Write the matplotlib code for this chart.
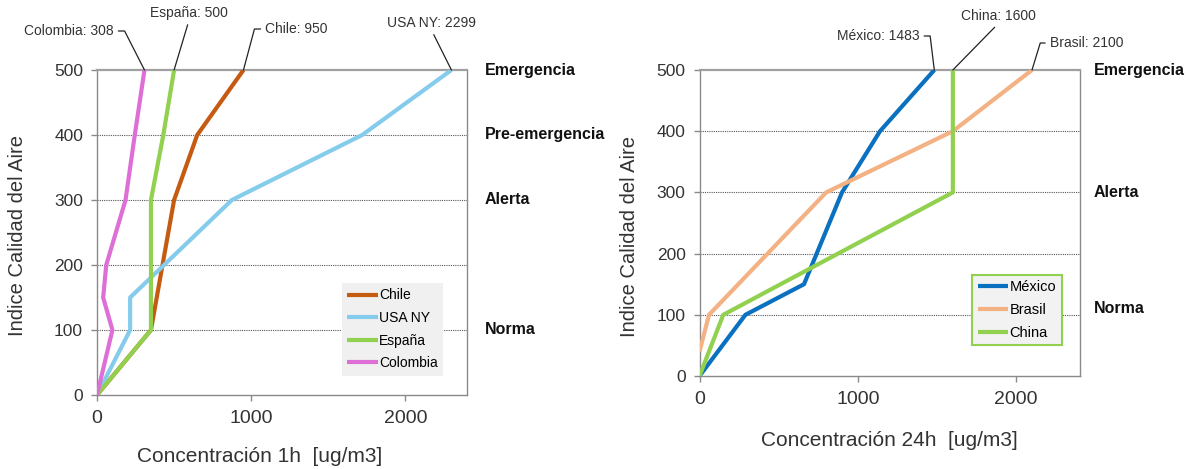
import matplotlib
matplotlib.use("Agg")
import matplotlib.pyplot as plt
import matplotlib.transforms as mtransforms

plt.rcParams['font.family'] = ['Liberation Sans', 'DejaVu Sans']

# ---------------- data ----------------
aqi_levels = [0, 100, 200, 300, 400, 500]

chile_x = [0, 350, 425, 500, 650, 950]
chile_y = [0, 100, 200, 300, 400, 500]
usa_x = [0, 215, 215, 875, 1720, 2299]
usa_y = [0, 100, 150, 300, 400, 500]
espana_x = [0, 350, 350, 350, 430, 500]
espana_y = [0, 100, 200, 300, 400, 500]
colombia_x = [0, 100, 40, 60, 185, 245, 308]
colombia_y = [0, 100, 150, 200, 300, 400, 500]

mexico_x = [0, 290, 660, 900, 1140, 1483]
mexico_y = [0, 100, 150, 300, 400, 500]
brasil_x = [0, 60, 800, 1600, 2100]
brasil_y = [40, 100, 300, 400, 500]
china_x = [0, 150, 1600, 1600, 1600]
china_y = [0, 100, 300, 400, 500]

left_levels = ["Emergencia", "Pre-emergencia", "Alerta", "Norma"]
left_level_y = [500, 400, 300, 100]
right_levels = ["Emergencia", "Alerta", "Norma"]
right_level_y = [500, 300, 110]

x_ticks = [0, 1000, 2000]
y_ticks = [0, 100, 200, 300, 400, 500]

# ---------------- style ----------------
C_CHILE = '#c55a11'
C_USA = '#85ccec'
C_ESP = '#92d050'
C_COL = '#dd6fd6'
C_MEX = '#0a70c0'
C_BRA = '#f4b183'
C_CHI = '#92d050'
TXT = '#333333'
SPINE = '#8a8a8a'

fig = plt.figure(figsize=(11.94, 4.69), dpi=100)
axL = fig.add_axes([97/1194, 74/469, 370/1194, 325/469])
axR = fig.add_axes([699.5/1194, 93/469, 380/1194, 306/469])


def style_axes(ax):
    ax.set_xlim(0, 2400)
    ax.set_ylim(0, 500)
    ax.set_xticks(x_ticks)
    ax.set_yticks(y_ticks)
    for s in ax.spines.values():
        s.set_color(SPINE)
        s.set_linewidth(1.0)
    ax.spines['top'].set_linewidth(1.6)
    ax.spines['top'].set_color('#a0a0a0')
    ax.tick_params(axis='x', length=4, width=1, color=SPINE, labelsize=14,
                   labelcolor=TXT, pad=7)
    ax.tick_params(axis='y', length=4, width=1, color=SPINE, labelsize=12.5,
                   labelcolor=TXT, pad=6)
    for yv in aqi_levels[1:-1]:
        ax.axhline(yv, color='#555555', lw=0.8, ls=(0, (1, 1)), zorder=1)


def series(ax, x, y, c, label):
    ax.plot(x, y, color=c, lw=3, label=label, solid_joinstyle='round',
            solid_capstyle='butt', zorder=3)


def leader(ax, text, xv, yv, dx, dy, ha, relpos, conn):
    ax.annotate(text, xy=(xv, yv), xycoords='data',
                xytext=(dx, dy), textcoords='offset pixels',
                ha=ha, va='center', fontsize=10, color=TXT,
                annotation_clip=False,
                arrowprops=dict(arrowstyle='-', color='#222222', lw=0.9,
                                relpos=relpos, connectionstyle=conn,
                                shrinkA=1.5, shrinkB=0))


# ---------------- left chart ----------------
style_axes(axL)
series(axL, chile_x, chile_y, C_CHILE, 'Chile')
series(axL, usa_x, usa_y, C_USA, 'USA NY')
series(axL, espana_x, espana_y, C_ESP, 'España')
series(axL, colombia_x, colombia_y, C_COL, 'Colombia')

axL.set_xlabel('Concentración 1h  [ug/m3]', fontsize=15, color=TXT)
axL.xaxis.set_label_coords(0.44, -0.188)
axL.xaxis.label.set_va('center')
axL.set_ylabel('Indice Calidad del Aire', fontsize=14.5, color=TXT)
axL.yaxis.set_label_coords(-0.214, 0.49)
axL.yaxis.label.set_va('center')

leader(axL, f'Colombia: {colombia_x[-1]}', colombia_x[-1], colombia_y[-1],
       -31, 39, 'right', (1, 0.5), 'angle,angleA=0,angleB=117,rad=0')
leader(axL, f'España: {espana_x[-1]}', espana_x[-1], espana_y[-1],
       15, 57, 'center', (0.5, 0), 'arc3')
leader(axL, f'Chile: {chile_x[-1]}', chile_x[-1], chile_y[-1],
       22, 41, 'left', (0, 0.5), 'angle,angleA=0,angleB=75,rad=0')
leader(axL, f'USA NY: {usa_x[-1]}', usa_x[-1], usa_y[-1],
       -20, 47, 'center', (0.5, 0), 'arc3')

trL = mtransforms.blended_transform_factory(axL.transAxes, axL.transData)
for lab, yv in zip(left_levels, left_level_y):
    axL.text(1.047, yv, lab, transform=trL, ha='left', va='center',
             fontsize=11.5, fontweight='bold', color='#111111')

legL = axL.legend(loc='lower left', bbox_to_anchor=(0.662, 0.06),
                  fontsize=10, handlelength=2.2, handletextpad=0.1,
                  labelspacing=0.62, borderpad=0.38, borderaxespad=0,
                  frameon=True, fancybox=False)
legL.get_frame().set_facecolor('#f0f0f0')
legL.get_frame().set_edgecolor('none')
legL.get_frame().set_alpha(1)

# ---------------- right chart ----------------
style_axes(axR)
series(axR, mexico_x, mexico_y, C_MEX, 'México')
series(axR, brasil_x, brasil_y, C_BRA, 'Brasil')
series(axR, china_x, china_y, C_CHI, 'China')

axR.set_xlabel('Concentración 24h  [ug/m3]', fontsize=15, color=TXT)
axR.xaxis.set_label_coords(0.50, -0.212)
axR.xaxis.label.set_va('center')
axR.set_ylabel('Indice Calidad del Aire', fontsize=14.5, color=TXT)
axR.yaxis.set_label_coords(-0.183, 0.455)
axR.yaxis.label.set_va('center')

leader(axR, f'México: {mexico_x[-1]}', mexico_x[-1], mexico_y[-1],
       -15, 34, 'right', (1, 0.5), 'angle,angleA=0,angleB=97,rad=0')
leader(axR, f'China: {china_x[-1]}', china_x[-1], china_y[-1],
       46, 54, 'center', (0.5, 0), 'arc3')
leader(axR, f'Brasil: {brasil_x[-1]}', brasil_x[-1], brasil_y[-1],
       18, 27, 'left', (0, 0.5), 'angle,angleA=0,angleB=73,rad=0')

trR = mtransforms.blended_transform_factory(axR.transAxes, axR.transData)
for lab, yv in zip(right_levels, right_level_y):
    axR.text(1.038, yv, lab, transform=trR, ha='left', va='center',
             fontsize=11.5, fontweight='bold', color='#111111')

legR = axR.legend(loc='lower left', bbox_to_anchor=(0.717, 0.10),
                  fontsize=10.5, handlelength=2.1, handletextpad=0.1,
                  labelspacing=0.6, borderpad=0.38, borderaxespad=0,
                  frameon=True, fancybox=False)
legR.get_frame().set_facecolor('#f2f2f2')
legR.get_frame().set_edgecolor('#92d050')
legR.get_frame().set_linewidth(1.5)
legR.get_frame().set_alpha(1)

fig.savefig('out.png', dpi=100, facecolor='white')
